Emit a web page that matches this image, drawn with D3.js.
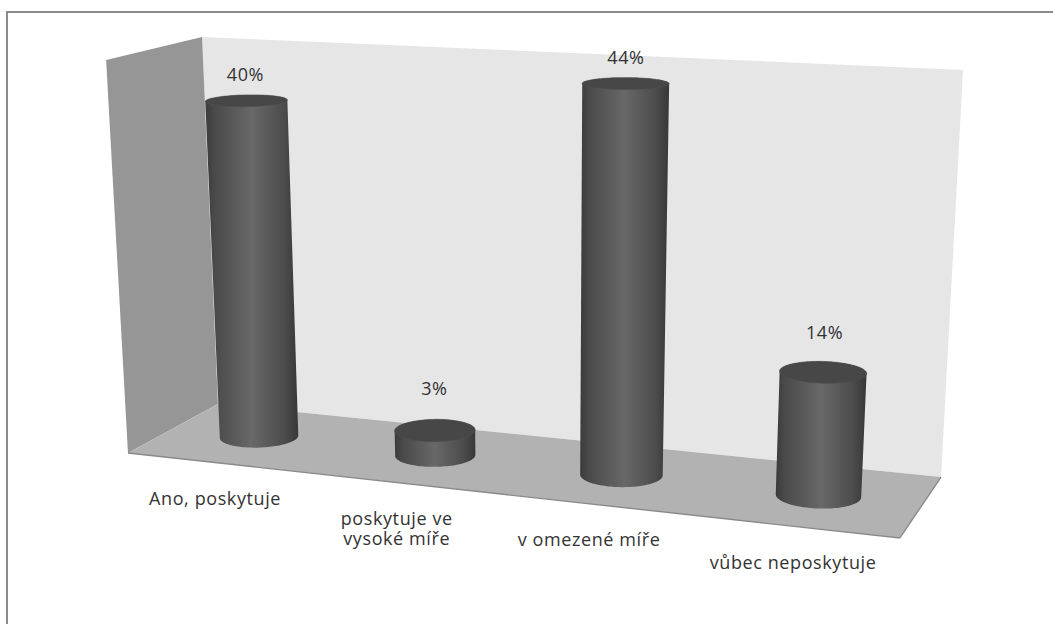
<!DOCTYPE html>
<html>
<head>
<meta charset="utf-8">
<script src="https://cdn.jsdelivr.net/npm/d3@7"></script>
<style>
  html, body { margin: 0; padding: 0; background: #ffffff; }
  svg { display: block; }
  text { font-family: "Open Sans", "Noto Sans", sans-serif; fill: #333333; letter-spacing: 0.6px; }
</style>
</head>
<body>
<svg id="chart" width="1053" height="624"></svg>
<script>
// ---- data ----
const categories = ["Ano, poskytuje", "poskytuje ve vysoké míře", "v omezené míře", "vůbec neposkytuje"];
const tickLabels = [["Ano, poskytuje"], ["poskytuje ve", "vysoké míře"], ["v omezené míře"], ["vůbec neposkytuje"]];
const values = [40, 3, 44, 14];
const valueLabels = ["40%", "3%", "44%", "14%"];
const valueMax = 45.5;

// ---- 3D camera (perspective) ----
const focal = 2360;
const principal = [520, 498];
// world axes expressed in camera space: x = along categories, y = up, z = toward the viewer
const axisX = [0.9375, 0.1036, -0.3322];
const axisY = [-0.00271, -0.9525, -0.3045];
const axisZ = [-0.3480, 0.2867, -0.8926];
const corner = [-128, -39.8, 1000];          // back-left corner of the floor
const plotW = 307.4, plotH = 153.7, plotD = 76.8;

function project(x, y, z) {
  const p = [0, 1, 2].map(i => corner[i] + x * axisX[i] + y * axisY[i] + z * axisZ[i]);
  return [principal[0] + focal * p[0] / p[2], principal[1] + focal * p[1] / p[2]];
}

const svg = d3.select("#chart");
const width = 1053, height = 624;
const fontSize = 18;
const lineStep = 20;

const xScale = d3.scaleBand().domain(categories).range([0, plotW]);
const yScale = d3.scaleLinear().domain([0, valueMax]).range([0, plotH]);
// short columns carry their labels a little higher
const labelLift = d3.scaleLinear().domain([0, valueMax]).range([5.2, 2.7]);
const radius = xScale.bandwidth() * 0.205;
const midDepth = plotD / 2;

// ---- defs ----
const defs = svg.append("defs");
const grad = defs.append("linearGradient").attr("id", "cyl")
  .attr("x1", 0).attr("y1", 0).attr("x2", 1).attr("y2", 0);
[[0, "#3b3b3b"], [0.1, "#4a4a4a"], [0.5, "#686868"], [0.85, "#4c4c4c"], [1, "#373737"]]
  .forEach(([o, c]) => grad.append("stop").attr("offset", o).attr("stop-color", c));

// ---- frame ----
svg.append("rect").attr("width", width).attr("height", height).attr("fill", "#ffffff");
svg.append("rect")
  .attr("x", 7).attr("y", 12).attr("width", width + 20).attr("height", height + 20)
  .attr("fill", "none").attr("stroke", "#8c8c8c").attr("stroke-width", 2);

const line = d3.line();
const poly = pts => line(pts) + "Z";

// ---- walls and floor ----
svg.append("path")
  .attr("d", poly([project(0, 0, 0), project(0, plotH, 0), project(plotW, plotH, 0), project(plotW, 0, 0)]))
  .attr("fill", "#e6e6e6");
svg.append("path")
  .attr("d", poly([project(0, 0, plotD), project(0, plotH, plotD), project(0, plotH, 0), project(0, 0, 0)]))
  .attr("fill", "#969696");
svg.append("path")
  .attr("d", poly([project(0, 0, 0), project(plotW, 0, 0), project(plotW, 0, plotD), project(0, 0, plotD)]))
  .attr("fill", "#b2b2b2");
svg.append("path")
  .attr("d", line([project(0, 0, plotD), project(plotW, 0, plotD), project(plotW, 0, 0)]))
  .attr("fill", "none").attr("stroke", "#8a8a8a").attr("stroke-width", 1.4);

// ---- cylinders ----
const N = 120;
function ring(cx, cz, y) {
  return d3.range(N).map(k => {
    const t = 2 * Math.PI * k / N;
    return project(cx + radius * Math.cos(t), y, cz + radius * Math.sin(t));
  });
}

const bars = categories.map((c, i) => ({
  cat: c,
  value: values[i],
  label: valueLabels[i],
  lines: tickLabels[i],
  cx: xScale(c) + xScale.bandwidth() / 2
}));

const g = svg.append("g");
bars.forEach(d => {
  const base = ring(d.cx, midDepth, 0);
  const top = ring(d.cx, midDepth, yScale(d.value));
  const hull = d3.polygonHull(base.concat(top));
  g.append("path").attr("d", poly(hull)).attr("fill", "url(#cyl)");
  g.append("path").attr("d", poly(top)).attr("fill", "#474747")
    .attr("stroke", "#4f4f4f").attr("stroke-width", 0.6);
});

// ---- value labels ----
bars.forEach(d => {
  const p = project(d.cx, yScale(d.value + labelLift(d.value)), midDepth);
  svg.append("text")
    .attr("x", p[0]).attr("y", p[1]).attr("dy", "0.35em")
    .attr("text-anchor", "middle").attr("font-size", fontSize)
    .text(d.label);
});

// ---- category labels along the front edge ----
bars.forEach(d => {
  const p = project(d.cx, 0, plotD);
  d.lines.forEach((s, k) => {
    svg.append("text")
      .attr("text-anchor", "middle").attr("font-size", fontSize)
      .attr("x", p[0]).attr("y", p[1] + 42.5 + k * lineStep)
      .text(s);
  });
});
</script>
</body>
</html>
